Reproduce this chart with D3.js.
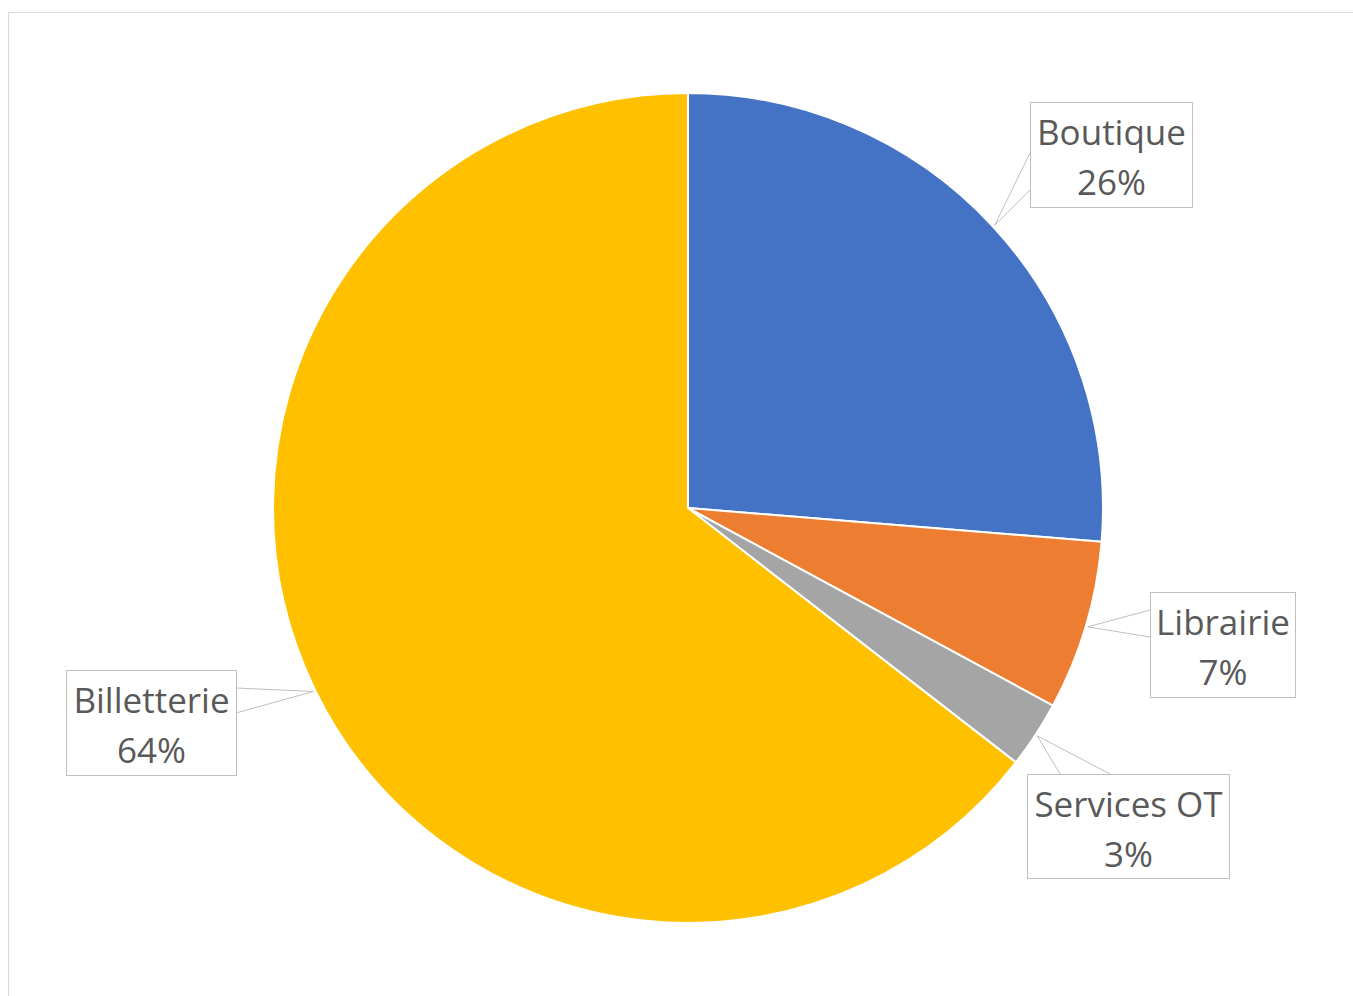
<!DOCTYPE html>
<html><head><meta charset="utf-8">
<script src="https://cdn.jsdelivr.net/npm/d3@7"></script>
<style>body{margin:0;background:#fff}svg{display:block}</style>
</head><body>
<script>
const categories = ["Boutique", "Librairie", "Services OT", "Billetterie"];
const values = [26.3, 6.6, 2.6, 64.5];
const labels = ["26%", "7%", "3%", "64%"];
const colors = ["#4472C4", "#ED7D31", "#A5A5A5", "#FFC000"];

const W = 1353, H = 996;
const cx = 688, cy = 508, R = 415;
// label box layout: x,y,w,h and callout base (side, from, to)
const boxes = [
  {x:1030, y:102, w:162, h:105, side:"left", a:51, b:88},
  {x:1150, y:592, w:145, h:105, side:"left", a:18, b:45},
  {x:1027, y:774, w:202, h:104, side:"top", a:33, b:83},
  {x:66, y:670, w:170, h:105, side:"right", a:18, b:43}
];

const svg = d3.select("body").append("svg").attr("width", W).attr("height", H);
svg.append("rect").attr("x", 8.5).attr("y", 12.5).attr("width", W).attr("height", H)
  .attr("fill", "#fff").attr("stroke", "#d9d9d9").attr("stroke-width", 1);

const data = categories.map((c, i) => ({name: c, value: values[i], label: labels[i], color: colors[i], box: boxes[i]}));
const pie = d3.pie().sort(null).value(d => d.value);
const arcs = pie(data);
const arc = d3.arc().innerRadius(0).outerRadius(R);
const g = svg.append("g").attr("transform", `translate(${cx},${cy})`);
g.selectAll("path").data(arcs).join("path")
  .attr("d", arc).attr("fill", d => d.data.color)
  .attr("stroke", "#fff").attr("stroke-width", 2).attr("stroke-linejoin", "round");

const lab = svg.append("g");
arcs.forEach(d => {
  const b = d.data.box;
  const mid = (d.startAngle + d.endAngle) / 2;
  const ax = cx + Math.sin(mid) * (R + 2), ay = cy - Math.cos(mid) * (R + 2);
  let p1, p2;
  if (b.side === "left") { p1 = [b.x, b.y + b.a]; p2 = [b.x, b.y + b.b]; }
  else if (b.side === "right") { p1 = [b.x + b.w, b.y + b.a]; p2 = [b.x + b.w, b.y + b.b]; }
  else { p1 = [b.x + b.a, b.y]; p2 = [b.x + b.b, b.y]; }
  lab.append("path")
    .attr("d", `M${p1[0]},${p1[1]}L${ax},${ay}L${p2[0]},${p2[1]}`)
    .attr("fill", "#fff").attr("stroke", "#bfbfbf").attr("stroke-width", 1);
  lab.append("rect").attr("x", b.x + 0.5).attr("y", b.y + 0.5).attr("width", b.w).attr("height", b.h)
    .attr("fill", "#fff").attr("stroke", "#bfbfbf").attr("stroke-width", 1);
  const t = lab.append("text").attr("x", b.x + b.w / 2 + 0.5).attr("text-anchor", "middle")
    .attr("font-family", "'Open Sans', sans-serif").attr("font-size", 35).attr("fill", "#595959");
  t.append("tspan").attr("x", b.x + b.w / 2 + 0.5).attr("y", b.y + 43).text(d.data.name);
  t.append("tspan").attr("x", b.x + b.w / 2 + 0.5).attr("y", b.y + 93).text(d.data.label);
});
</script>
</body></html>
